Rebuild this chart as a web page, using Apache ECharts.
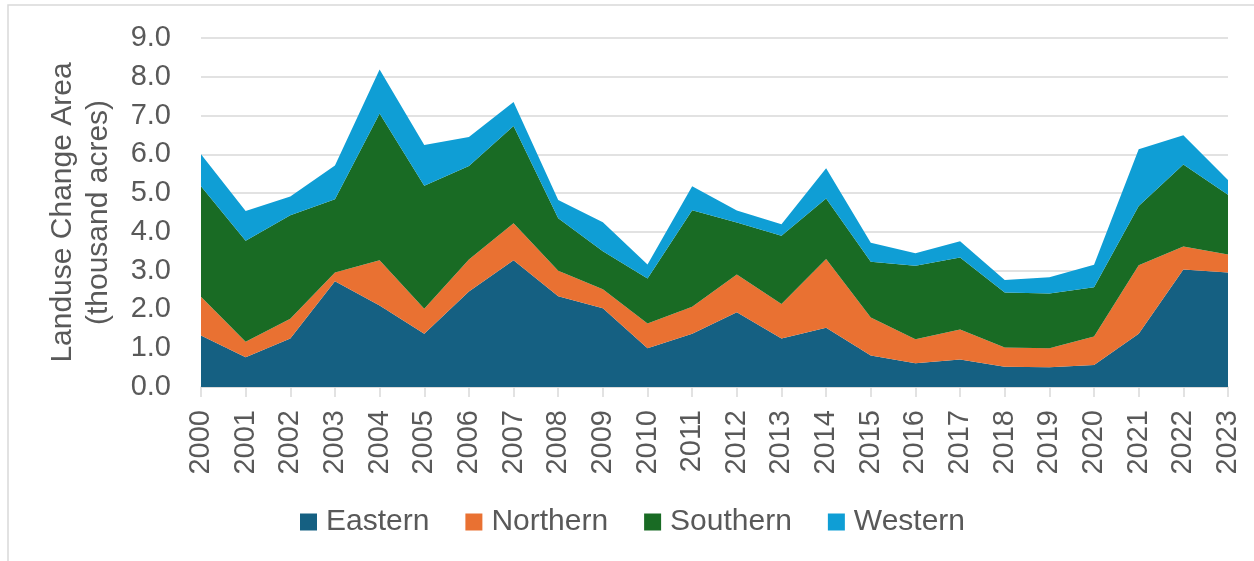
<!DOCTYPE html>
<html>
<head>
<meta charset="utf-8">
<script src="https://cdn.jsdelivr.net/npm/echarts@6/dist/echarts.min.js"></script>
<style>
  html, body { margin: 0; padding: 0; background: #fff; }
  #chart { width: 1254px; height: 561px; }
</style>
</head>
<body>
<div id="chart"></div>
<script>
// years on the x axis
const years = ['2000', '2001', '2002', '2003', '2004', '2005', '2006', '2007', '2008', '2009', '2010', '2011',
  '2012', '2013', '2014', '2015', '2016', '2017', '2018', '2019', '2020', '2021', '2022', '2023'];

// landuse change area per region (thousand acres), stacked
const eastern = [1.33, 0.77, 1.25, 2.73, 2.10, 1.37, 2.46, 3.27, 2.34, 2.03, 1.00, 1.37,
  1.93, 1.25, 1.53, 0.81, 0.61, 0.71, 0.52, 0.51, 0.57, 1.37, 3.03, 2.95];
const northern = [1.00, 0.40, 0.51, 0.22, 1.17, 0.65, 0.83, 0.95, 0.66, 0.49, 0.64, 0.70,
  0.97, 0.89, 1.77, 0.98, 0.62, 0.77, 0.50, 0.49, 0.73, 1.77, 0.59, 0.47];
const southern = [2.85, 2.60, 2.67, 1.89, 3.78, 3.17, 2.41, 2.51, 1.35, 0.98, 1.16, 2.49,
  1.34, 1.76, 1.56, 1.44, 1.90, 1.86, 1.42, 1.41, 1.27, 1.53, 2.12, 1.54];
const western = [0.82, 0.77, 0.48, 0.87, 1.14, 1.05, 0.75, 0.62, 0.47, 0.75, 0.36, 0.62,
  0.31, 0.30, 0.78, 0.49, 0.32, 0.42, 0.32, 0.42, 0.58, 1.46, 0.75, 0.38];

const regions = ['Eastern', 'Northern', 'Southern', 'Western'];
const colors = ['#156082', '#E97132', '#196B24', '#0F9ED5'];

const font = '"Liberation Sans", Arial, sans-serif';
const textColor = '#595959';

const chart = echarts.init(document.getElementById('chart'));

// 每个区域一层堆叠面积
const makeSeries = (name, data, color) => ({
  name: name,
  type: 'line',
  stack: 'total',
  data: data,
  symbol: 'none',
  lineStyle: { width: 0 },
  areaStyle: { color: color, opacity: 1 },
  itemStyle: { color: color },
  emphasis: { disabled: true }
});

const option = {
  animation: false,
  textStyle: { fontFamily: font },
  graphic: [{
    type: 'rect',
    shape: { x: 8, y: 5, width: 1400, height: 700 },
    style: { fill: 'none', stroke: '#d9d9d9', lineWidth: 1.5 },
    silent: true
  }],
  grid: { left: 201, right: 26, top: 38, bottom: 174 },
  legend: {
    data: regions,
    left: 300,
    top: 507,
    padding: 0,
    icon: 'rect',
    itemWidth: 17,
    itemHeight: 17,
    itemGap: 36,
    selectedMode: false,
    textStyle: { fontSize: 30, color: textColor, fontFamily: font, padding: [0, 0, 0, 4] }
  },
  xAxis: {
    type: 'category',
    data: years,
    boundaryGap: false,
    axisLine: { lineStyle: { color: '#d9d9d9', width: 1.5 } },
    axisTick: { length: 10, lineStyle: { color: '#d9d9d9', width: 1.5 } },
    axisLabel: { rotate: 90, margin: 23, fontSize: 29, color: textColor, fontFamily: font, interval: 0 },
    splitLine: { show: false }
  },
  yAxis: {
    type: 'value',
    min: 0,
    max: 9,
    interval: 1,
    name: 'Landuse Change Area\n(thousand acres)',
    nameLocation: 'middle',
    nameRotate: 90,
    nameGap: 84,
    nameTextStyle: { fontSize: 30, color: textColor, fontFamily: font, lineHeight: 36 },
    axisLine: { show: false },
    axisTick: { show: false },
    axisLabel: { margin: 30, fontSize: 29, color: textColor, fontFamily: font, formatter: v => v.toFixed(1) },
    splitLine: { lineStyle: { color: '#d9d9d9', width: 1.5 } }
  },
  series: [
    makeSeries(regions[0], eastern, colors[0]),
    makeSeries(regions[1], northern, colors[1]),
    makeSeries(regions[2], southern, colors[2]),
    makeSeries(regions[3], western, colors[3])
  ]
};

chart.setOption(option);
</script>
</body>
</html>
